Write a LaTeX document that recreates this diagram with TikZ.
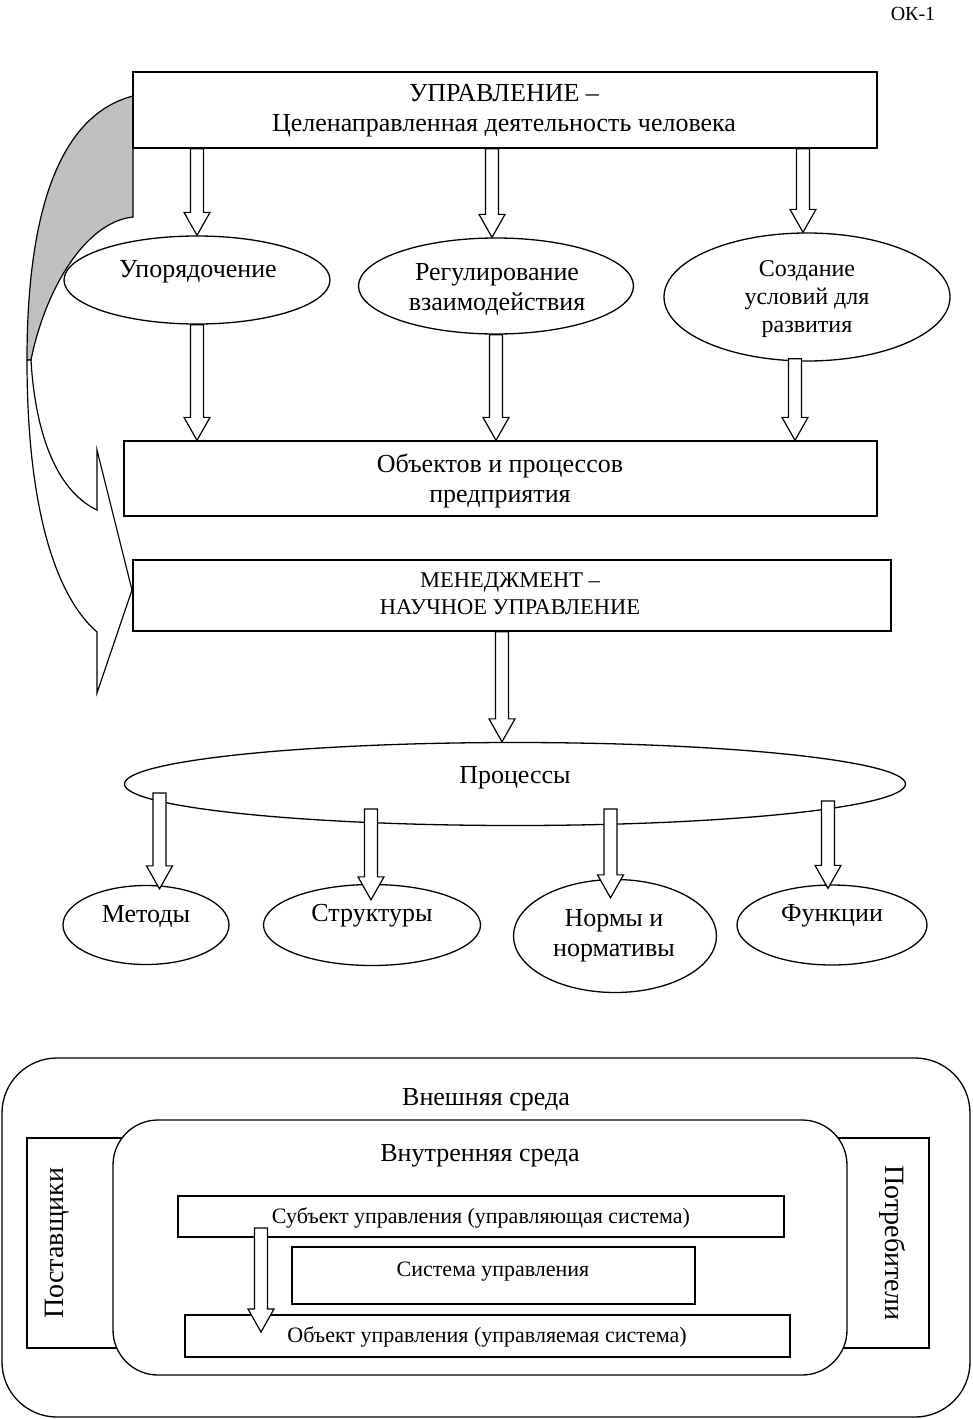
\documentclass[tikz,border=0pt]{standalone}
\usepackage{fontspec}
\setmainfont{Liberation Serif}
\usetikzlibrary{shapes.geometric,calc}
\definecolor{foldgrey}{RGB}{192,192,192}
\tikzset{
  box/.style={draw, line width=1.3pt, fill=white, rectangle, inner sep=0pt},
  oval/.style={draw, line width=1.3pt, fill=white, ellipse, inner sep=0pt},
  txt/.style={align=center, inner sep=0pt, font=\fontsize{26}{30}\selectfont},
  stxt/.style={align=center, inner sep=0pt, font=\fontsize{22}{26}\selectfont},
  blk/.style={draw, fill=white, line width=1.2pt, line join=miter},
  fold/.style={draw, line width=1.2pt, line join=miter},
}
% hollow block arrow: x from #1, from y of #2 down to y of #3
\newcommand\barrow[3]{\draw[blk] let \p1=(#1), \p2=(#2), \p3=(#3) in
  (\x1-6.5pt,\y2) -- (\x1-6.5pt,\y3+23pt) -- (\x1-13pt,\y3+23pt) -- (\x1,\y3)
  -- (\x1+13pt,\y3+23pt) -- (\x1+6.5pt,\y3+23pt) -- (\x1+6.5pt,\y2) -- cycle;}
\begin{document}
\begin{tikzpicture}[x=1pt,y=-1pt]
\useasboundingbox[fill=white] (0,0) rectangle (972,1419);

\node[txt, font=\fontsize{20}{24}\selectfont] (ok) at (913,14) {ОК-1};

% curved arrow from top box to management box
\draw[fold, fill=foldgrey] (133,96) .. controls (60,115) and (27,210) .. (27,360)
  -- (31,360) .. controls (45,290) and (85,222) .. (133,217) -- cycle;
\draw[fold, fill=white] (27,360) .. controls (27,520) and (60,600) .. (97,632)
  -- (97,693) -- (132,590) -- (97,450) -- (97,510)
  .. controls (55,490) and (35,430) .. (31,360) -- cycle;

% top section
\node[box, minimum width=744pt, minimum height=76pt] (top) at (505,110) {};
\node[txt] (topT) at (504,110.5) {УПРАВЛЕНИЕ –\\Целенаправленная деятельность человека};

\node[oval, minimum width=266pt, minimum height=88pt] (upor) at (197,280) {};
\node[txt] (uporT) at (198,272) {Упорядочение};
\node[oval, minimum width=275pt, minimum height=96pt] (reg) at (496,286) {};
\node[txt] (regT) at (497,289) {Регулирование\\взаимодействия};
\node[oval, minimum width=286pt, minimum height=128pt] (sozd) at (807,297) {};
\node[txt, font=\fontsize{24}{28}\selectfont] (sozdT) at (807,299) {Создание\\условий для\\развития};

\node[box, minimum width=753pt, minimum height=75pt] (obj) at (500.5,478.5) {};
\node[txt] (objT) at (500,481) {Объектов и процессов\\предприятия};

\node[box, minimum width=758pt, minimum height=71pt] (men) at (512,595.5) {};
\node[txt, font=\fontsize{22.5}{27}\selectfont] (menT) at (510,593.5) {МЕНЕДЖМЕНТ –\\НАУЧНОЕ УПРАВЛЕНИЕ};

\node[oval, minimum width=781pt, minimum height=83pt] (proc) at (515,784) {};
\node[txt] (procT) at (515,778) {Процессы};

\node[oval, minimum width=166pt, minimum height=79pt] (met) at (146,925) {};
\node[txt] (metT) at (146,916) {Методы};
\node[oval, minimum width=217pt, minimum height=81pt] (str) at (372,925) {};
\node[txt] (strT) at (372,916) {Структуры};
\node[oval, minimum width=203pt, minimum height=113pt] (norm) at (615,936) {};
\node[txt] (normT) at (614,935.5) {Нормы и\\нормативы};
\node[oval, minimum width=190pt, minimum height=80pt] (func) at (832,925) {};
\node[txt] (funcT) at (832,916) {Функции};

% arrows top section
\barrow{upor.north}{top.south}{upor.north}
\barrow{[xshift=-4pt]reg.north}{top.south}{reg.north}
\barrow{[xshift=-4pt]sozd.north}{top.south}{sozd.north}
\barrow{upor.south}{upor.south}{obj.north}
\barrow{reg.south}{reg.south}{obj.north}
\barrow{[xshift=-12pt]sozd.south}{[yshift=3pt]sozd.south}{obj.north}
\barrow{[xshift=-10pt]men.south}{men.south}{proc.north}
\barrow{[xshift=13.5pt]met.center}{[yshift=-9pt]proc.center}{[yshift=-4pt]met.north}
\barrow{[xshift=-1pt]str.center}{[yshift=-25pt]proc.center}{[yshift=-16pt]str.north}
\barrow{[xshift=-4.5pt]norm.center}{[yshift=-25pt]proc.center}{[yshift=-19pt]norm.north}
\barrow{[xshift=-4pt]func.center}{[yshift=-17pt]proc.center}{[yshift=-4pt]func.north}

% bottom section
\node[draw, line width=1.3pt, fill=white, rounded corners=55pt, minimum width=968pt, minimum height=359pt, inner sep=0pt] (ext) at (486,1237.5) {};
\node[txt] (extT) at (486,1100) {Внешняя среда};
\node[box, minimum width=123pt, minimum height=210pt] (post) at (88.5,1243) {};
\node[box, minimum width=119pt, minimum height=210pt] (potr) at (869.5,1243) {};
\node[txt, rotate=90, font=\fontsize{28}{32}\selectfont] (postT) at (57,1243) {Поставщики};
\node[txt, rotate=-90, font=\fontsize{28}{32}\selectfont] (potrT) at (893,1243) {Потребители};
\node[draw, line width=1.3pt, fill=white, rounded corners=45pt, minimum width=734pt, minimum height=255pt, inner sep=0pt] (int) at (480,1247.5) {};
\node[txt] (intT) at (480,1156) {Внутренняя среда};

\node[box, minimum width=606pt, minimum height=41pt] (subj) at (481,1216.5) {};
\node[stxt] (subjT) at (481,1218) {Субъект управления (управляющая система)};
\node[box, minimum width=403pt, minimum height=57pt] (sys) at (493.5,1275.5) {};
\node[stxt] (sysT) at (493,1272) {Система управления};
\node[box, minimum width=605pt, minimum height=42pt] (objU) at (487.5,1336) {};
\node[stxt] (objUT) at (487,1337) {Объект управления (управляемая система)};

\barrow{[xshift=-220pt]subj.center}{[yshift=-11.5pt]subj.center}{[yshift=4pt]objU.center}
\end{tikzpicture}
\end{document}
